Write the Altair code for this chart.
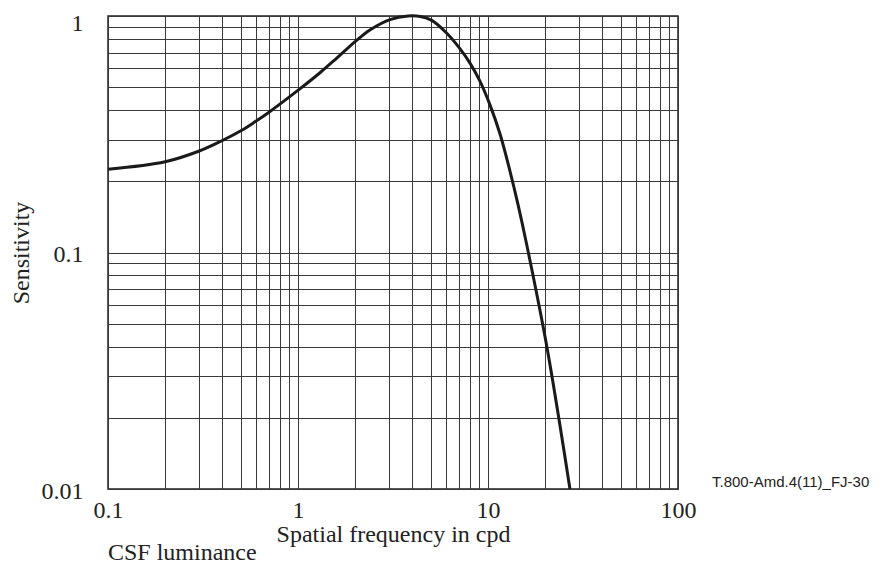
import altair as alt
import pandas as pd

# Curve values (spatial frequency in cpd -> sensitivity)
freq = [0.1, 0.2, 0.3, 0.388, 0.5, 0.594, 0.698, 1.01, 1.31, 1.6, 2.02, 2.39, 3.05,
        3.8, 4.4, 5.06, 6.07, 7.13, 8.04, 9.07, 10.25, 11.57, 13.05, 14.4, 16.0, 20.4, 27.0]
sens = [0.225, 0.242, 0.268, 0.294, 0.327, 0.357, 0.390, 0.488, 0.577, 0.664, 0.785, 0.873, 0.966,
        1.0, 0.995, 0.958, 0.845, 0.726, 0.632, 0.530, 0.420, 0.317, 0.221, 0.159, 0.1076, 0.040, 0.01]

# Grid / tick positions
x_ticks = [0.1, 0.2, 0.3, 0.4, 0.5, 0.6, 0.7, 0.8, 0.9,
           1, 2, 3, 4, 5, 6, 7, 8, 9,
           10, 20, 30, 40, 50, 60, 70, 80, 90, 100]
y_ticks = [0.01, 0.02, 0.03, 0.04, 0.05, 0.06, 0.07, 0.08, 0.09,
           0.1, 0.2, 0.3, 0.4, 0.5, 0.6, 0.7, 0.8, 0.9, 1]

x_title = "Spatial frequency in cpd"
y_title = "Sensitivity"
caption = "CSF luminance"
ref_code = "T.800-Amd.4(11)_FJ-30"

df = pd.DataFrame({"f": freq, "s": sens})

SERIF = "Liberation Serif"
FS = 24
label_expr = ("abs(log(datum.value)/LN10 - round(log(datum.value)/LN10)) < 0.001 "
              "? format(datum.value, '~g') : ''")

x_enc = alt.X("f:Q", scale=alt.Scale(type="log", domain=[0.1, 100], nice=False),
              axis=alt.Axis(values=x_ticks, labelExpr=label_expr, title=x_title,
                            grid=True, ticks=False, domain=False,
                            gridColor="#3a3a3a", gridWidth=1, gridOpacity=1,
                            labelFont=SERIF, labelFontSize=FS, labelColor="#222",
                            labelPadding=9, labelFlush=False, labelOverlap=False,
                            titleFont=SERIF, titleFontSize=FS, titleFontWeight="normal",
                            titleColor="#222", titlePadding=0))
y_enc = alt.Y("s:Q", scale=alt.Scale(type="log", domain=[0.01, 1], nice=False),
              axis=alt.Axis(values=y_ticks, labelExpr=label_expr, title=y_title,
                            grid=True, ticks=False, domain=False,
                            gridColor="#3a3a3a", gridWidth=1, gridOpacity=1,
                            labelFont=SERIF, labelFontSize=FS, labelColor="#222",
                            labelPadding=25, labelFlush=False, labelOverlap=False,
                            labelBaseline="alphabetic",
                            labelOffset={"condition": {"test": "datum.value >= 0.999", "value": 14},
                                         "value": 9},
                            titleFont=SERIF, titleFontSize=FS, titleFontWeight="normal",
                            titleColor="#222", titlePadding=8))

line = alt.Chart(df).mark_line(color="#1a1a1a", strokeWidth=3, interpolate="catmull-rom").encode(
    x=x_enc, y=y_enc)

code = alt.Chart(pd.DataFrame({"t": [ref_code], "f": [100], "s": [0.01]})).mark_text(
    align="left", baseline="alphabetic", dx=34, dy=-2,
    font="Liberation Sans", fontSize=15, color="#222").encode(
    x=alt.X("f:Q"), y=alt.Y("s:Q"), text="t:N")

chart = alt.layer(line, code).properties(
    width=570, height=473,
    autosize=alt.AutoSizeParams(type="none"),
    padding={"left": 100, "top": 8, "right": 196, "bottom": 76},
    title=alt.TitleParams(caption, orient="bottom", anchor="start", frame="group",
                          font=SERIF, fontSize=FS, fontWeight="normal", color="#222",
                          offset=-5),
).configure_view(stroke="#222", strokeWidth=1.5)

chart.save("out.html", embed_options={"renderer": "svg", "actions": False})
